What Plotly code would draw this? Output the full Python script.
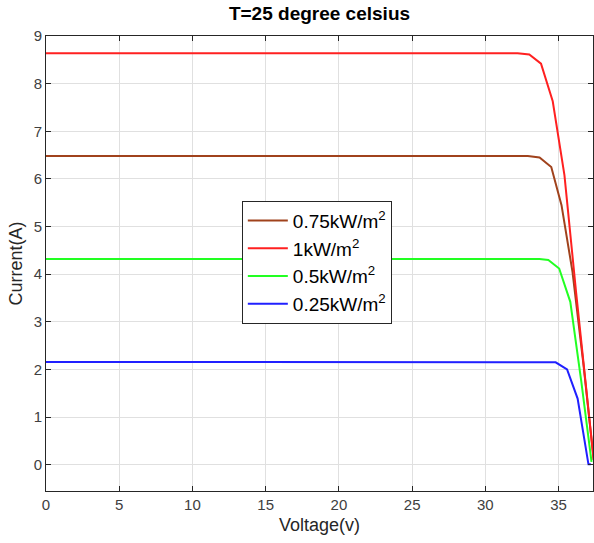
import plotly.graph_objects as go

# Voltage (V) and current (A) samples
v_075 = [0, 32.9, 33.7, 34.5, 35.2, 35.95, 36.7, 37.4]
i_075 = [6.48, 6.48, 6.45, 6.25, 5.45, 4.05, 2.1, 0.1]

v_1 = [0, 32.2, 33.0, 33.8, 34.6, 35.4, 36.2, 37.0, 37.4]
i_1 = [8.64, 8.64, 8.61, 8.42, 7.63, 6.08, 3.61, 1.22, 0.1]

v_05 = [0, 33.7, 34.3, 35.04, 35.8, 36.55, 37.25]
i_05 = [4.32, 4.32, 4.30, 4.12, 3.42, 1.75, 0.06]

v_025 = [0, 34.0, 34.8, 35.58, 36.3, 37.04, 37.2]
i_025 = [2.16, 2.16, 2.15, 2.0, 1.39, 0.01, 0.01]

names = ["0.75kW/m<sup>2</sup>", "1kW/m<sup>2</sup>", "0.5kW/m<sup>2</sup>", "0.25kW/m<sup>2</sup>"]
colors = ["#A0421C", "#FF2020", "#22FF22", "#2020FF"]

x_ticks = [0, 5, 10, 15, 20, 25, 30, 35]
y_ticks = [0, 1, 2, 3, 4, 5, 6, 7, 8, 9]

fig = go.Figure()
for v, i, n, c in zip([v_075, v_1, v_05, v_025], [i_075, i_1, i_05, i_025], names, colors):
    fig.add_trace(go.Scatter(x=v, y=i, mode="lines", name=n,
                             line=dict(color=c, width=2)))

axis_common = dict(
    showgrid=True, gridcolor="#E0E0E0", gridwidth=1,
    showline=True, linecolor="#262626", linewidth=1, mirror="ticks",
    ticks="inside", ticklen=5, tickcolor="#262626",
    tickfont=dict(family="Liberation Sans, Arial", size=15, color="#404040"),
    zeroline=False, automargin=False,
)

fig.update_layout(
    width=594, height=543,
    margin=dict(l=46, r=1, t=36, b=52),
    paper_bgcolor="white", plot_bgcolor="white",
    title=dict(text="<b>T=25 degree celsius</b>", x=0.5, xref="paper", xanchor="center",
               y=0.975, yanchor="middle", automargin=False,
               font=dict(family="Liberation Sans, Arial", size=19, color="black")),
    xaxis=dict(range=[0, 37.35], tickvals=x_ticks,
               title=dict(text="Voltage(v)", standoff=6,
                          font=dict(family="Liberation Sans, Arial", size=18, color="#262626")),
               **axis_common),
    yaxis=dict(range=[-0.55, 9], tickvals=y_ticks,
               title=dict(text="Current(A)", standoff=6,
                          font=dict(family="Liberation Sans, Arial", size=18, color="#262626")),
               **axis_common),
    legend=dict(x=0.358, y=0.638, xanchor="left", yanchor="top",
                bgcolor="white", bordercolor="#262626", borderwidth=1,
                font=dict(family="Liberation Sans, Arial", size=19, color="black"),
                tracegroupgap=0, itemwidth=40),
    showlegend=True,
)

fig.write_html("out.html", config={"displayModeBar": False},
               post_script="document.body.style.margin='0';")
